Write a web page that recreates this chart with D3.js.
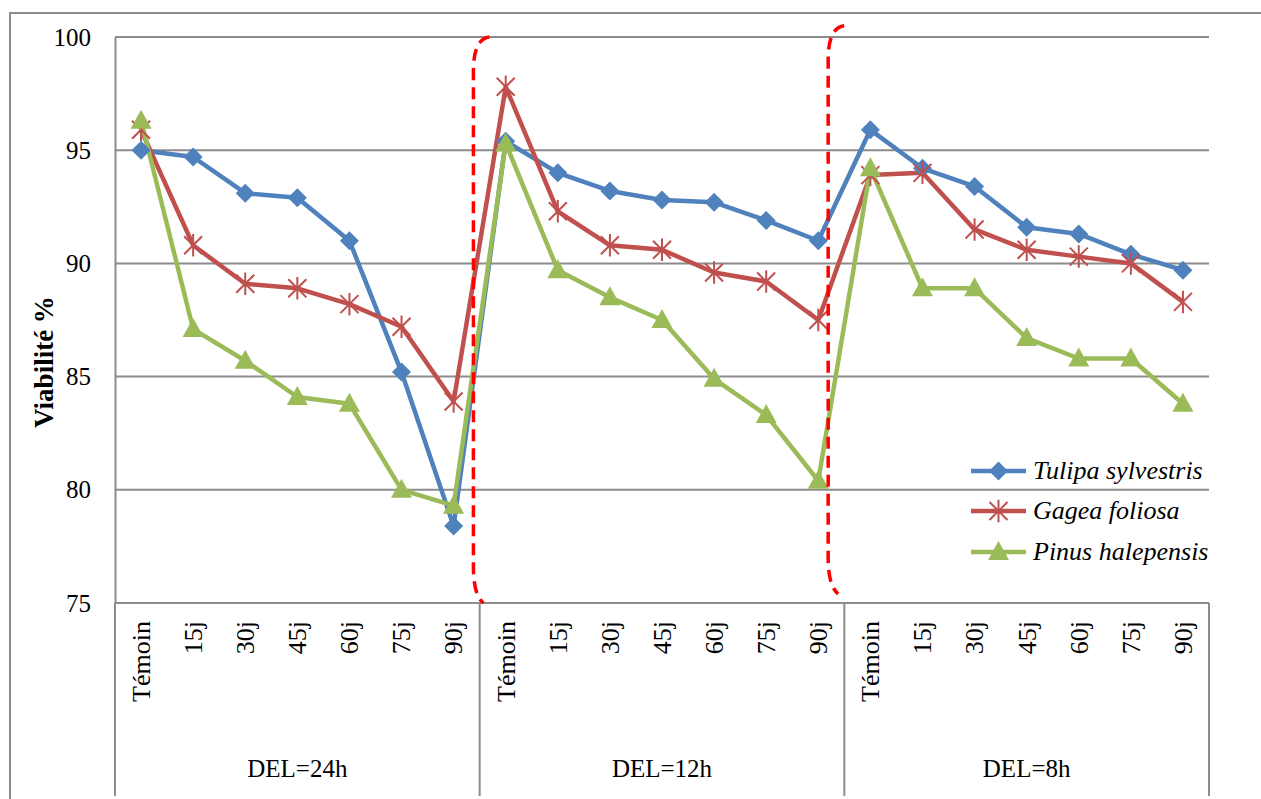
<!DOCTYPE html>
<html><head><meta charset="utf-8">
<script src="https://cdn.jsdelivr.net/npm/d3@7"></script>
<style>body{margin:0;background:#fff} svg{display:block}</style></head><body>
<svg id="c" width="1261" height="799"></svg>
<script>
const groups = ["DEL=24h","DEL=12h","DEL=8h"];
const periods = ["Témoin","15j","30j","45j","60j","75j","90j"];
const tulipa = [95.0,94.7,93.1,92.9,91.0,85.2,78.4, 95.4,94.0,93.2,92.8,92.7,91.9,91.0, 95.9,94.2,93.4,91.6,91.3,90.4,89.7];
const gagea  = [95.9,90.8,89.1,88.9,88.2,87.2,83.9, 97.8,92.3,90.8,90.6,89.6,89.2,87.5, 93.9,94.0,91.5,90.6,90.3,90.0,88.3];
const pinus  = [96.3,87.1,85.7,84.1,83.8,80.0,79.3, 95.3,89.7,88.5,87.5,84.9,83.3,80.4, 94.2,88.9,88.9,86.7,85.8,85.8,83.8];
const seriesNames = ["Tulipa sylvestris","Gagea foliosa","Pinus halepensis"];
const yTicks = [75,80,85,90,95,100];
// annotation brackets: position in category-index space, top/bottom in value space
const bracketPos = [6.38, 13.19];
const bracketTop = [100, 100.5];
const bracketBottom = [75, 75.4];

const svg = d3.select("#c");
const L = 115, R = 1209, T = 37, B = 603;
const serif = "'Liberation Serif','Times New Roman',serif";
const gridC = "#8c8c8c";
const colors = ["#4F81BD","#C0504D","#9BBB59"];

const cats = [];
groups.forEach(g => periods.forEach(p => cats.push(g + "|" + p)));
const x = d3.scaleBand().domain(cats).range([L, R]).padding(0);
const cx = i => x(cats[i]) + x.bandwidth() / 2;
const xi = d3.scaleLinear().domain([0, cats.length - 1]).range([cx(0), cx(cats.length - 1)]);
const y = d3.scaleLinear().domain([75, 100]).range([B, T]);

// outer frame
svg.append("rect").attr("x", 10).attr("y", 13).attr("width", 1400).attr("height", 1000)
  .attr("fill", "none").attr("stroke", gridC).attr("stroke-width", 2);

// gridlines
svg.append("g").selectAll("line").data(yTicks).join("line")
  .attr("x1", L).attr("x2", R).attr("y1", d => y(d)).attr("y2", d => y(d))
  .attr("stroke", gridC).attr("stroke-width", 2);

// y axis
const yAxis = d3.axisLeft(y).tickValues(yTicks).tickSize(0).tickPadding(24).tickFormat(d3.format("d"));
const ya = svg.append("g").attr("transform", `translate(${L},0)`).call(yAxis);
ya.select(".domain").attr("stroke", gridC).attr("stroke-width", 2);
ya.selectAll("text").attr("font-family", serif).attr("font-size", 25).attr("fill", "#000");

// y title
svg.append("text").attr("transform", `translate(53,362) rotate(-90)`)
  .attr("text-anchor", "middle").attr("font-family", serif).attr("font-weight", "bold")
  .attr("font-size", 27).attr("fill", "#000").text("Viabilité %");

// category axis
svg.append("line").attr("x1", L).attr("x2", R).attr("y1", B).attr("y2", B)
  .attr("stroke", gridC).attr("stroke-width", 2);
const sepIdx = d3.range(groups.length + 1);
svg.append("g").selectAll("line").data(sepIdx).join("line")
  .attr("x1", d => L + d * periods.length * x.bandwidth())
  .attr("x2", d => L + d * periods.length * x.bandwidth())
  .attr("y1", B).attr("y2", 796).attr("stroke", gridC).attr("stroke-width", 2);

svg.append("g").selectAll("text").data(cats).join("text")
  .attr("transform", (d, i) => `translate(${cx(i)},621) rotate(-90)`)
  .attr("text-anchor", "end").attr("dy", "0.34em")
  .attr("font-family", serif).attr("font-size", 26).attr("fill", "#000")
  .text(d => d.split("|")[1]);

svg.append("g").selectAll("text").data(groups).join("text")
  .attr("x", (d, g) => L + (g + 0.5) * periods.length * x.bandwidth())
  .attr("y", 777).attr("text-anchor", "middle")
  .attr("font-family", serif).attr("font-size", 25).attr("fill", "#000").text(d => d);

// series
const allSeries = [tulipa, gagea, pinus];
const line = d3.line().x((d, i) => cx(i)).y(d => y(d));

function marker(g, k, col) {
  if (k === 0) {
    g.append("path").attr("d", "M0,-9.5L9.5,0L0,9.5L-9.5,0Z").attr("fill", col);
  } else if (k === 1) {
    const r = 9;
    g.append("path").attr("d", `M${-r},${-r}L${r},${r}M${-r},${r}L${r},${-r}M0,${-r * 1.25}L0,${r * 1.25}`)
      .attr("stroke", col).attr("stroke-width", 2).attr("fill", "none");
  } else {
    g.append("path").attr("d", "M0,-11L10.5,8L-10.5,8Z").attr("fill", col);
  }
}

allSeries.forEach((s, k) => {
  svg.append("path").datum(s).attr("d", line).attr("fill", "none")
    .attr("stroke", colors[k]).attr("stroke-width", 4.5).attr("stroke-linejoin", "round");
});
allSeries.forEach((s, k) => {
  s.forEach((v, i) => {
    const g = svg.append("g").attr("transform", `translate(${cx(i)},${y(v)})`);
    marker(g, k, colors[k]);
  });
});

// dashed brackets
bracketPos.forEach((p, j) => {
  const xv = xi(p), yt = y(bracketTop[j]), yb = y(bracketBottom[j]);
  const d = `M${xv + 16},${yt} Q${xv},${yt + 2} ${xv},${yt + 34} L${xv},${yb - 36} Q${xv},${yb - 8} ${xv + 10},${yb}`;
  svg.append("path").attr("d", d).attr("fill", "none").attr("stroke", "#FF0000")
    .attr("stroke-width", 3.5).attr("stroke-dasharray", "12,7");
});

// legend
const lg = svg.append("g");
const ly = [471, 511, 552];
seriesNames.forEach((n, k) => {
  lg.append("line").attr("x1", 971).attr("x2", 1026).attr("y1", ly[k]).attr("y2", ly[k])
    .attr("stroke", colors[k]).attr("stroke-width", 4.5);
  const g = lg.append("g").attr("transform", `translate(998.5,${ly[k]})`);
  marker(g, k, colors[k]);
  lg.append("text").attr("x", 1033).attr("y", ly[k]).attr("dy", "0.32em")
    .attr("font-family", serif).attr("font-style", "italic").attr("font-size", 26)
    .attr("fill", "#000").text(n);
});
</script>
</body></html>
